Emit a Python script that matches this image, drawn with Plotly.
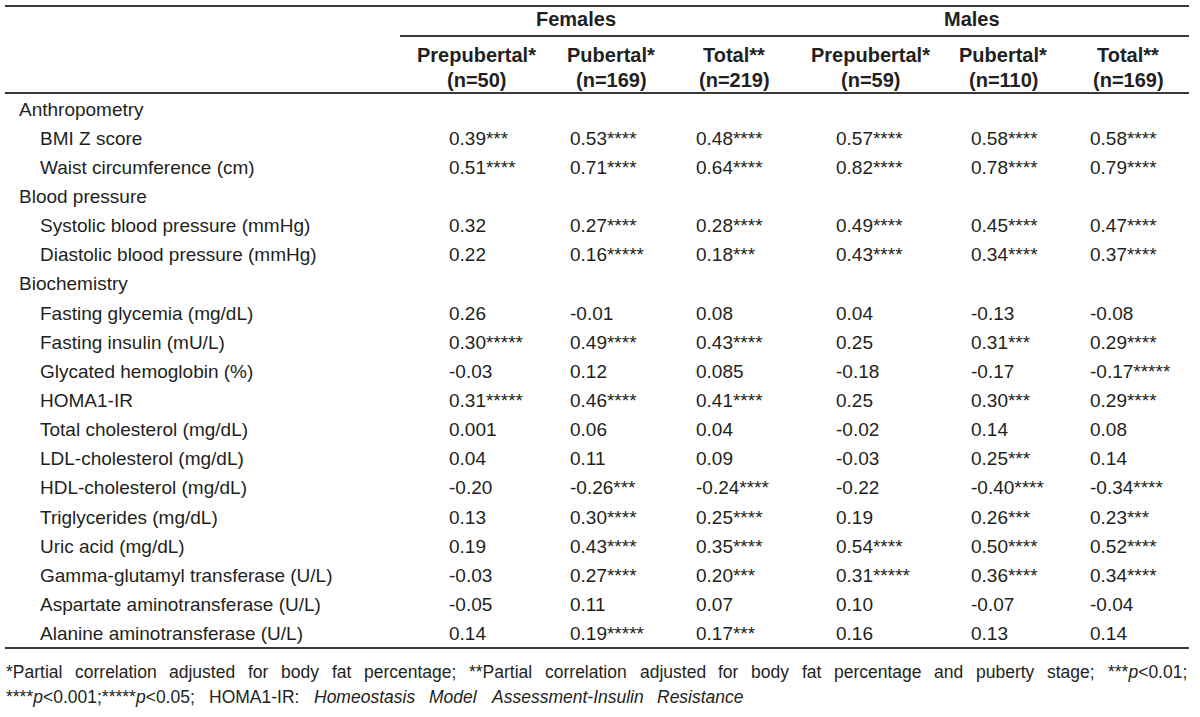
import re
import plotly.graph_objects as go

# ---------------- data ----------------
groups = ["Females", "Males"]
col_headers = ["Prepubertal*", "Pubertal*", "Total**", "Prepubertal*", "Pubertal*", "Total**"]
col_n = ["(n=50)", "(n=169)", "(n=219)", "(n=59)", "(n=110)", "(n=169)"]

row_labels = [
    "Anthropometry",
    "BMI Z score",
    "Waist circumference (cm)",
    "Blood pressure",
    "Systolic blood pressure (mmHg)",
    "Diastolic blood pressure (mmHg)",
    "Biochemistry",
    "Fasting glycemia (mg/dL)",
    "Fasting insulin (mU/L)",
    "Glycated hemoglobin (%)",
    "HOMA1-IR",
    "Total cholesterol (mg/dL)",
    "LDL-cholesterol (mg/dL)",
    "HDL-cholesterol (mg/dL)",
    "Triglycerides (mg/dL)",
    "Uric acid (mg/dL)",
    "Gamma-glutamyl transferase (U/L)",
    "Aspartate aminotransferase (U/L)",
    "Alanine aminotransferase (U/L)",
]
is_section = [True, False, False, True, False, False, True] + [False] * 12

female_prepubertal = ["", "0.39***", "0.51****", "", "0.32", "0.22", "",
                      "0.26", "0.30*****", "-0.03", "0.31*****", "0.001", "0.04", "-0.20",
                      "0.13", "0.19", "-0.03", "-0.05", "0.14"]
female_pubertal = ["", "0.53****", "0.71****", "", "0.27****", "0.16*****", "",
                   "-0.01", "0.49****", "0.12", "0.46****", "0.06", "0.11", "-0.26***",
                   "0.30****", "0.43****", "0.27****", "0.11", "0.19*****"]
female_total = ["", "0.48****", "0.64****", "", "0.28****", "0.18***", "",
                "0.08", "0.43****", "0.085", "0.41****", "0.04", "0.09", "-0.24****",
                "0.25****", "0.35****", "0.20***", "0.07", "0.17***"]
male_prepubertal = ["", "0.57****", "0.82****", "", "0.49****", "0.43****", "",
                    "0.04", "0.25", "-0.18", "0.25", "-0.02", "-0.03", "-0.22",
                    "0.19", "0.54****", "0.31*****", "0.10", "0.16"]
male_pubertal = ["", "0.58****", "0.78****", "", "0.45****", "0.34****", "",
                 "-0.13", "0.31***", "-0.17", "0.30***", "0.14", "0.25***", "-0.40****",
                 "0.26***", "0.50****", "0.36****", "-0.07", "0.13"]
male_total = ["", "0.58****", "0.79****", "", "0.47****", "0.37****", "",
              "-0.08", "0.29****", "-0.17*****", "0.29****", "0.08", "0.14", "-0.34****",
              "0.23***", "0.52****", "0.34****", "-0.04", "0.14"]

footnote_1 = ("*Partial correlation adjusted for body fat percentage; **Partial correlation "
              "adjusted for body fat percentage and puberty stage; ***<i>p</i>&lt;0.01;")
footnote_2 = ("****<i>p</i>&lt;0.001;*****<i>p</i>&lt;0.05; HOMA1-IR: "
              "<i>Homeostasis</i> <i>Model</i> <i>Assessment-Insulin</i> <i>Resistance</i>")

columns = [female_prepubertal, female_pubertal, female_total,
           male_prepubertal, male_pubertal, male_total]

# ---------------- layout constants ----------------
W, H = 1200, 717
FONT = "Liberation Sans, Arial, sans-serif"
TXT = "#231f20"
LINE = "#3a3a3a"
FS = 19
FS_HEAD = 20
FS_NOTE = 17.5

left_x, right_x = 5, 1189
header_centers = [476, 611, 734, 870, 1003, 1128]
value_left = [448, 569, 695, 835, 970, 1089]
group_centers = [576, 972]
row_y0, row_dy = 109, 29.15

# Arial / Liberation Sans advance widths (1/1000 em) for justification
_AW = {" ": 278, "*": 389, ";": 278, ".": 278, "<": 584, "-": 333, ":": 278,
       "(": 333, ")": 333, "P": 667, "H": 722, "O": 778, "M": 833, "A": 667,
       "I": 278, "R": 722, "S": 667, "1": 556,
       "a": 556, "b": 556, "c": 500, "d": 556, "e": 556, "f": 278, "g": 556,
       "h": 556, "i": 222, "j": 222, "k": 500, "l": 222, "m": 833, "n": 556,
       "o": 556, "p": 556, "q": 556, "r": 333, "s": 500, "t": 278, "u": 556,
       "v": 500, "w": 722, "x": 500, "y": 500, "z": 500}


def text_width(s, size):
    plain = re.sub(r"<[^>]+>", "", s).replace("&lt;", "<")
    return sum(_AW.get(c, 556) for c in plain) * size / 1000.0


def justify(line, x0, x1, size):
    words = line.split(" ")
    widths = [text_width(w, size) for w in words]
    gap = max((x1 - x0 - sum(widths)) / (len(words) - 1), 0.278 * size)
    xs, x = [], x0
    for w in widths:
        xs.append(x)
        x += w + gap
    return list(zip(words, xs))


fig = go.Figure()
fig.add_trace(go.Scatter(x=[0, W], y=[0, H], mode="markers",
                         marker=dict(opacity=0), hoverinfo="skip", showlegend=False))

ann = []
for g, cx in zip(groups, group_centers):
    ann.append(dict(x=cx, y=19, text=f"<b>{g}</b>", xanchor="center", yanchor="middle",
                    font=dict(size=FS_HEAD)))
for h, n, cx in zip(col_headers, col_n, header_centers):
    ann.append(dict(x=cx, y=55, text=f"<b>{h}</b>", xanchor="center", yanchor="middle",
                    font=dict(size=FS_HEAD)))
    ann.append(dict(x=cx, y=80, text=f"<b>{n}</b>", xanchor="center", yanchor="middle",
                    font=dict(size=FS_HEAD)))

for i, (lab, sec) in enumerate(zip(row_labels, is_section)):
    y = row_y0 + i * row_dy
    ann.append(dict(x=18 if sec else 39, y=y, text=lab, xanchor="left", yanchor="middle",
                    font=dict(size=FS)))
    for col, vx in zip(columns, value_left):
        if col[i]:
            ann.append(dict(x=vx, y=y, text=col[i], xanchor="left", yanchor="middle",
                            font=dict(size=FS)))

for line, y, x_end in [(footnote_1, 672, 1186), (footnote_2, 697, 743)]:
    for word, wx in justify(line, left_x, x_end, FS_NOTE):
        ann.append(dict(x=wx, y=y, text=word, xanchor="left", yanchor="middle",
                        font=dict(size=FS_NOTE)))

for a in ann:
    a.update(xref="x", yref="y", showarrow=False, borderpad=0)
    a["font"].update(family=FONT, color=TXT)

shapes = []
for (x0, x1, y) in [(left_x, right_x, 6), (400, right_x, 36), (left_x, right_x, 93),
                    (left_x, right_x, 648)]:
    shapes.append(dict(type="line", xref="x", yref="y", x0=x0, x1=x1, y0=y, y1=y,
                       line=dict(color=LINE, width=2)))

fig.update_layout(
    width=W, height=H, margin=dict(l=0, r=0, t=0, b=0),
    paper_bgcolor="white", plot_bgcolor="white",
    xaxis=dict(range=[0, W], visible=False, fixedrange=True),
    yaxis=dict(range=[H, 0], visible=False, fixedrange=True),
    annotations=ann, shapes=shapes, showlegend=False,
)
fig.write_html("out.html",
               config={"displayModeBar": False, "staticPlot": True},
               post_script="document.body.style.margin='0';"
                           "document.body.style.overflow='hidden';")
